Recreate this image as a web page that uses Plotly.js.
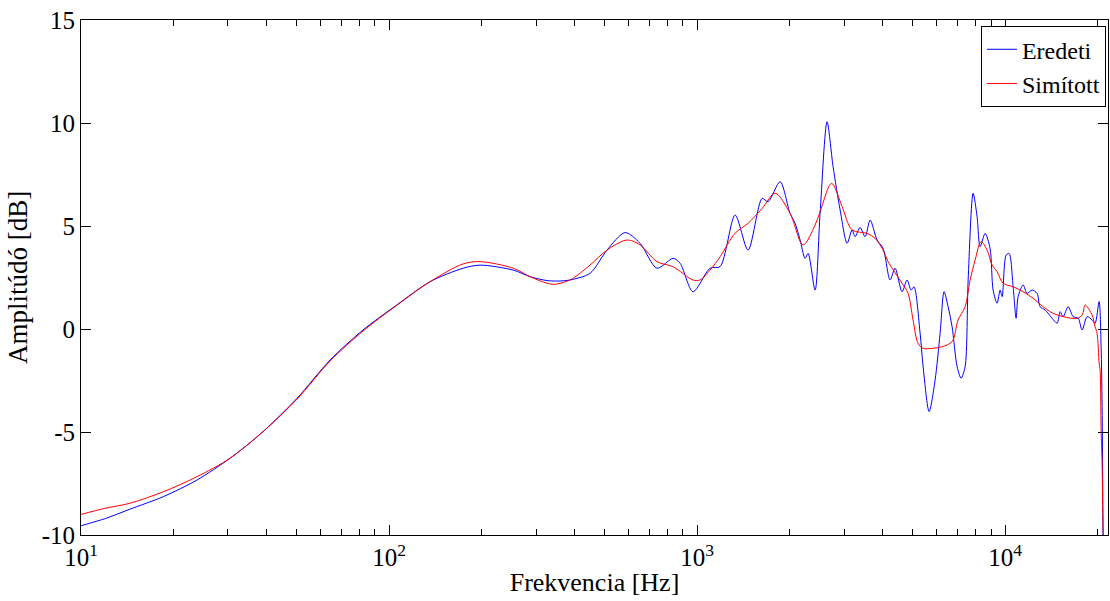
<!DOCTYPE html>
<html>
<head>
<meta charset="utf-8">
<script src="https://cdn.plot.ly/plotly-3.0.1.min.js"></script>
<style>html,body{margin:0;padding:0;background:#fff;}#chart{width:1110px;height:601px;}</style>
</head>
<body>
<div id="chart"></div>
<script>
// Eredeti (original) response: frequency [Hz] and amplitude [dB]
const freqEredeti = [10, 12, 14.4, 18.5, 23.8, 30.5, 39, 50.3, 64.4, 82.3, 106, 136, 174, 197.5, 253, 287, 326, 359, 387, 449, 510, 584, 653, 741, 836, 881, 970, 1102, 1188, 1329, 1464, 1626, 1700, 1860, 2004, 2081, 2160, 2242, 2293, 2416, 2508, 2642, 2764, 2913, 3069, 3186, 3259, 3382, 3512, 3646, 3840, 4017, 4232, 4394, 4629, 4805, 4951, 5063, 5297, 5418, 5666, 5925, 6151, 6337, 6531, 6728, 6986, 7195, 7415, 7585, 7873, 8110, 8295, 8610, 8939, 9142, 9419, 9634, 9779, 10075, 10304, 10617, 10857, 11020, 11440, 11788, 12237, 12702, 12990, 13489, 14213, 14753, 15088, 15430, 16016, 16625, 17258, 17783, 18459, 19159, 19594, 20190, 20493, 20646, 20800];
const dbEredeti = [-9.55, -9.2, -8.75, -8.14, -7.33, -6.27, -4.98, -3.36, -1.5, -0.05, 1.17, 2.3, 2.95, 3.1, 2.86, 2.54, 2.35, 2.33, 2.38, 2.7, 3.83, 4.68, 4.16, 2.95, 3.43, 3.19, 1.81, 2.95, 3.03, 5.53, 3.83, 6.34, 6.18, 7.15, 5.61, 5.13, 4.32, 3.43, 3.67, 1.89, 5.61, 10.06, 7.88, 5.78, 4.16, 4.81, 4.48, 4.93, 4.48, 5.29, 4.32, 3.92, 2.38, 2.95, 1.81, 2.38, 1.89, 2.05, -0.21, -1.83, -4.01, -2.48, -0.21, 1.81, 1.08, 0.11, -1.83, -2.39, -1.83, 2.38, 6.59, 5.45, 4.0, 4.64, 3.9, 1.89, 1.25, 1.89, 1.57, 3.59, 3.67, 2.05, 0.52, 1.57, 2.14, 1.73, 1.89, 1.73, 1.08, 0.92, 0.52, 0.28, 0.84, 0.6, 1.08, 0.6, 0.52, -0.05, 0.6, 0.44, 0.28, 1.33, -0.86, -3.77, -11];

// Simított (smoothed) response
const freqSimitott = [10, 12, 14.4, 18.5, 23.8, 30.5, 39, 50.3, 64.4, 82.3, 106, 136, 174, 197.5, 253, 287, 326, 345, 387, 449, 510, 593, 653, 741, 836, 970, 1022, 1102, 1188, 1329, 1464, 1626, 1792, 2004, 2209, 2416, 2508, 2733, 2957, 3186, 3565, 3784, 4017, 4169, 4629, 4842, 5025, 5217, 5418, 5794, 6244, 6728, 7036, 7415, 7699, 7992, 8356, 8742, 9075, 9419, 9852, 10617, 11440, 12330, 13289, 14317, 15430, 17130, 17783, 18186, 18459, 19159, 19594, 19888, 20190, 20340, 20493, 20646, 20800, 20955];
const dbSimitott = [-9.0, -8.7, -8.46, -7.9, -7.17, -6.27, -4.98, -3.4, -1.55, -0.1, 1.15, 2.3, 3.16, 3.27, 2.95, 2.54, 2.22, 2.17, 2.38, 3.1, 3.83, 4.32, 4.08, 3.27, 3.02, 2.38, 2.38, 2.86, 3.51, 4.65, 5.13, 5.85, 6.59, 5.61, 4.08, 5.05, 5.69, 7.07, 5.94, 4.81, 4.64, 4.4, 3.83, 3.27, 2.22, 1.73, 0.44, -0.7, -0.94, -0.94, -0.86, -0.61, 0.44, 1.08, 2.38, 3.35, 4.24, 3.83, 3.1, 2.78, 2.22, 2.05, 1.81, 1.49, 1.08, 0.76, 0.6, 0.52, 0.68, 1.17, 1.08, 0.68, 0.11, -0.21, -1.65, -2.0, -4.9, -6.5, -9.6, -11];

const xTickVals = [10, 100, 1000, 10000];
const xTickText = ['10<sup>1</sup>', '10<sup>2</sup>', '10<sup>3</sup>', '10<sup>4</sup>'];
const yTickVals = [-10, -5, 0, 5, 10, 15];
const yTickText = ['-10', '-5', '0', '5', '10', '15'];
const seriesNames = ['Eredeti', 'Simított'];

const minorVals = [];
[10, 100, 1000, 10000].forEach(d => { for (let k = 2; k <= 9; k++) minorVals.push(k * d); });

const FONT = '"Liberation Serif", "Times New Roman", serif';

const traces = [
  {x: freqEredeti, y: dbEredeti, type: 'scatter', mode: 'lines', name: seriesNames[0],
   line: {color: '#0000ff', width: 1, shape: 'spline', smoothing: 0.8}},
  {x: freqSimitott, y: dbSimitott, type: 'scatter', mode: 'lines', name: seriesNames[1],
   line: {color: '#ff0000', width: 1, shape: 'spline', smoothing: 0.9}}
];

const layout = {
  width: 1110, height: 601,
  margin: {l: 81, r: 2, t: 20, b: 66},
  paper_bgcolor: '#fff', plot_bgcolor: '#fff',
  font: {family: FONT, size: 25, color: '#000'},
  showlegend: true,
  legend: {x: 0.998, y: 0.988, xanchor: 'right', yanchor: 'top',
    bgcolor: '#fff', bordercolor: '#000', borderwidth: 1,
    font: {family: FONT, size: 24, color: '#000'}, tracegroupgap: 0},
  xaxis: {
    type: 'log', range: [1, 4.334],
    tickmode: 'array', tickvals: xTickVals, ticktext: xTickText,
    ticks: 'inside', ticklen: 10, tickwidth: 1, tickcolor: '#000',
    minor: {tickmode: 'array', tickvals: minorVals, ticks: 'inside', ticklen: 6, tickwidth: 1, tickcolor: '#000', showgrid: false},
    showline: true, linecolor: '#000', linewidth: 1, mirror: 'ticks',
    showgrid: false, zeroline: false,
    tickfont: {family: FONT, size: 25, color: '#000'},
    title: {text: 'Frekvencia [Hz]', font: {family: FONT, size: 26, color: '#000'}, standoff: 2}
  },
  yaxis: {
    range: [-10, 15],
    tickmode: 'array', tickvals: yTickVals, ticktext: yTickText,
    ticks: 'inside', ticklen: 10, tickwidth: 1, tickcolor: '#000',
    showline: true, linecolor: '#000', linewidth: 1, mirror: 'ticks',
    showgrid: false, zeroline: false,
    tickfont: {family: FONT, size: 25, color: '#000'},
    title: {text: 'Amplitúdó [dB]', font: {family: FONT, size: 27, color: '#000'}, standoff: 6}
  }
};

Plotly.newPlot('chart', traces, layout, {displayModeBar: false, staticPlot: true});
</script>
</body>
</html>
